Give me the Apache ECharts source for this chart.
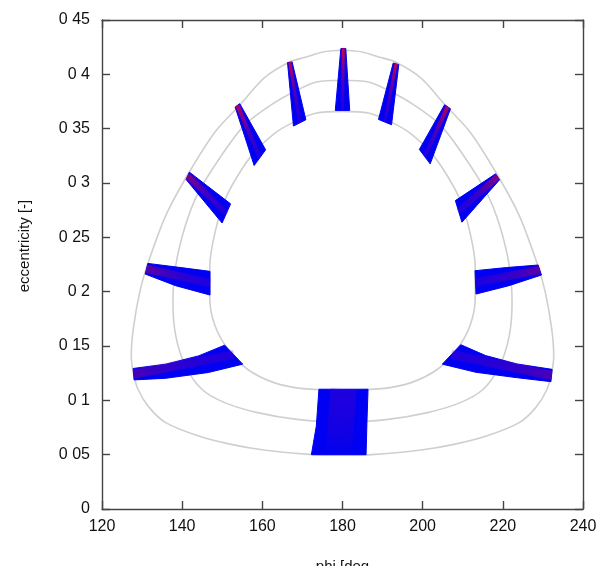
<!DOCTYPE html>
<html>
<head>
<meta charset="utf-8">
<script src="https://cdn.jsdelivr.net/npm/echarts@6/dist/echarts.min.js"></script>
<style>html,body{margin:0;padding:0;background:#fff}#c{width:612px;height:566px}</style>
</head>
<body>
<div id="c"></div>
<script>
// ---- tick labels ----
var xTickLabels = ['120','140','160','180','200','220','240'];
var yTickLabels = ['0','0 05','0 1','0 15','0 2','0 25','0 3','0 35','0 4','0 45'];

// ---- gray closed curves [phi, e] ----
var curveOuter = [[180,0.4221],[175.1,0.4206],[171.0,0.416],[166.8,0.4114],[160.4,0.3966],[154.7,0.373],[148.2,0.347],[141.6,0.309],[135.9,0.270],[131.4,0.2254],[129.4,0.1993],[127.8,0.1655],[127.3,0.141],[127.8,0.1256],[129.0,0.110],[131.8,0.0933],[135.9,0.0795],[144.1,0.0672],[152.2,0.0595],[160.4,0.0543],[171.8,0.0503],[180,0.0494],[188.2,0.0503],[199.6,0.0543],[207.8,0.0595],[215.9,0.0672],[224.1,0.0795],[228.2,0.0933],[231.0,0.110],[232.2,0.1256],[232.7,0.141],[232.2,0.1655],[230.6,0.1993],[228.6,0.2254],[224.1,0.270],[218.4,0.309],[211.8,0.347],[205.3,0.373],[199.6,0.3966],[193.2,0.4114],[189.0,0.416],[184.9,0.4206],[180,0.4221]];
var curveMiddle = [[180,0.3945],[173.5,0.393],[168.6,0.3853],[162.0,0.3714],[155.5,0.353],[149.8,0.3253],[144.1,0.2915],[140.8,0.2608],[138.4,0.2239],[137.7,0.190],[138.4,0.1594],[140.8,0.1317],[144.9,0.1102],[150.6,0.0979],[158.8,0.0887],[168.6,0.0825],[180,0.080],[191.4,0.0825],[201.2,0.0887],[209.4,0.0979],[215.1,0.1102],[219.2,0.1317],[221.6,0.1594],[222.3,0.190],[221.6,0.2239],[219.2,0.2608],[215.9,0.2915],[210.2,0.3253],[204.5,0.353],[198.0,0.3714],[191.4,0.3853],[186.5,0.393],[180,0.3945]];
var curveInner = [[180,0.3659],[173.5,0.3644],[167.8,0.356],[162.9,0.3453],[158.0,0.3284],[153.9,0.3069],[150.6,0.2838],[148.2,0.2546],[146.9,0.2239],[146.9,0.1932],[148.2,0.1686],[151.4,0.1471],[156.3,0.1286],[162.9,0.1163],[170.2,0.1108],[180,0.1096],[189.8,0.1108],[197.1,0.1163],[203.7,0.1286],[208.6,0.1471],[211.8,0.1686],[213.1,0.1932],[213.1,0.2239],[211.8,0.2546],[209.4,0.2838],[206.1,0.3069],[202.0,0.3284],[197.1,0.3453],[192.2,0.356],[186.5,0.3644],[180,0.3659]];

// ---- wedges: outer-A ... inner-A, inner-B ... outer-B ----
var wedgeBottom   = [[172.24,0.05],[173.47,0.0764],[174.12,0.1102],[186.37,0.1102],[186.1,0.08],[185.88,0.05]];
var wedgeLeft1    = [[127.76,0.1293],[135.92,0.1333],[144.08,0.1409],[150.61,0.1508],[155.1,0.1333],[146.53,0.1256],[135.92,0.1203],[128.0,0.1188]];
var wedgeLeft2    = [[131.43,0.226],[139.18,0.2224],[146.94,0.2187],[146.94,0.1969],[138.37,0.2055],[130.78,0.2162]];
var wedgeLeft3    = [[141.8,0.31],[152.08,0.2808],[149.96,0.2632],[140.98,0.3032]];
var wedgeLeft4    = [[154.37,0.373],[160.82,0.3305],[157.96,0.3161],[153.22,0.3699]];
var wedgeLeft5    = [[167.43,0.4114],[170.86,0.3582],[167.76,0.3524],[166.29,0.4108]];
var wedgeTop      = [[180.82,0.4237],[181.8,0.3668],[178.2,0.3668],[179.59,0.4237]];
var wedgeRight5   = [[192.65,0.4104],[188.98,0.3585],[192.24,0.3536],[194.04,0.4089]];
var wedgeRight4   = [[205.47,0.372],[199.18,0.3309],[201.88,0.3176],[206.94,0.3683]];
var wedgeRight3   = [[218.2,0.3084],[208.16,0.2838],[209.8,0.2639],[219.18,0.3029]];
var wedgeRight2   = [[228.82,0.2245],[220.9,0.2222],[213.06,0.2193],[213.31,0.1978],[221.5,0.2055],[229.63,0.2153]];
var wedgeRight1   = [[232.3,0.1285],[223.5,0.1335],[215.7,0.1412],[209.5,0.1512],[204.9,0.1333],[213.3,0.1258],[223.6,0.1208],[232.0,0.1172]];

var wedges = [wedgeBottom, wedgeLeft1, wedgeLeft2, wedgeLeft3, wedgeLeft4, wedgeLeft5, wedgeTop,
              wedgeRight5, wedgeRight4, wedgeRight3, wedgeRight2, wedgeRight1];

// styling of the central red/purple streak in each wedge (style only)
var streakWidth = [26, 9, 8, 6, 4, 3, 3, 3, 4, 6, 8, 9];
var streakRed   = [0.0, 0.3, 0.4, 0.6, 0.85, 0.95, 1.0, 0.95, 0.85, 0.6, 0.4, 0.3];

function lineSeries(pts){
  return {type:'line', data:pts, showSymbol:false, symbol:'none', smooth:0.3, silent:true,
    lineStyle:{color:'#cfcfcf', width:1.6}, z:1, animation:false};
}

var chart = echarts.init(document.getElementById('c'), null, {renderer:'canvas'});

var axisLineStyle = {color:'#444', width:1.4};
var labelStyle = {fontFamily:'Liberation Sans, Arial, sans-serif', fontSize:16, color:'#111'};

chart.setOption({
  animation:false,
  backgroundColor:'#fff',
  grid:{left:102, right:29, top:20, bottom:57, containLabel:false, outerBoundsMode:'none'},
  xAxis:[{
    type:'value', min:120, max:240, interval:20, position:'bottom',
    axisLine:{show:true, onZero:false, lineStyle:axisLineStyle},
    axisTick:{show:true, inside:true, length:8, lineStyle:axisLineStyle},
    axisLabel:Object.assign({margin:10, formatter:function(v){return xTickLabels[Math.round((v-120)/20)];}}, labelStyle),
    splitLine:{show:false},
    name:'phi [deg', nameLocation:'middle', nameGap:50,
    nameTextStyle:{fontFamily:'Liberation Sans, Arial, sans-serif', fontSize:15, color:'#111'}
  },{
    type:'value', min:120, max:240, interval:20, position:'top',
    axisLine:{show:true, onZero:false, lineStyle:axisLineStyle},
    axisTick:{show:true, inside:true, length:8, lineStyle:axisLineStyle},
    axisLabel:{show:false}, splitLine:{show:false}
  }],
  yAxis:[{
    type:'value', min:0, max:0.45, interval:0.05, position:'left',
    axisLine:{show:true, onZero:false, lineStyle:axisLineStyle},
    axisTick:{show:true, inside:true, length:8, lineStyle:axisLineStyle},
    axisLabel:Object.assign({margin:12, formatter:function(v){return yTickLabels[Math.round(v/0.05)];}}, labelStyle),
    splitLine:{show:false}
  },{
    type:'value', min:0, max:0.45, interval:0.05, position:'right',
    axisLine:{show:true, onZero:false, lineStyle:axisLineStyle},
    axisTick:{show:true, inside:true, length:8, lineStyle:axisLineStyle},
    axisLabel:{show:false}, splitLine:{show:false}
  }],
  graphic:[{
    type:'text', x:25, y:246, rotation:Math.PI/2,
    style:{text:'eccentricity [-]', fontFamily:'Liberation Sans, Arial, sans-serif', fontSize:15, fill:'#111',
      textAlign:'center', textVerticalAlign:'middle'}
  }],
  series:[
    lineSeries(curveOuter),
    lineSeries(curveMiddle),
    lineSeries(curveInner),
    {
      type:'custom', coordinateSystem:'cartesian2d', z:5, silent:true,
      data: wedges.map(function(w,i){return [w[0][0], w[0][1], i];}),
      encode:{x:0, y:1},
      renderItem:function(params, api){
        var i = api.value(2);
        var w = wedges[i];
        var pts = w.map(function(p){return api.coord(p);});
        var n = pts.length;
        var o = [(pts[0][0]+pts[n-1][0])/2, (pts[0][1]+pts[n-1][1])/2];
        var a = pts[n/2-1], b = pts[n/2];
        var inn = [(a[0]+b[0])/2, (a[1]+b[1])/2];
        var r = streakRed[i];
        var grad = {type:'linear', global:true, x:o[0], y:o[1], x2:inn[0], y2:inn[1], colorStops:[
          {offset:0, color:'rgba(230,0,45,'+(0.9*r)+')'},
          {offset:0.5, color:'rgba(140,0,140,'+(0.12+0.4*r)+')'},
          {offset:1, color:'rgba(90,0,200,0.25)'}]};
        return {type:'group', children:[
          {type:'polygon', shape:{points:pts}, style:{fill:'#0000f2', stroke:'#0000f2', lineWidth:1}},
          {type:'line', shape:{x1:o[0], y1:o[1], x2:inn[0], y2:inn[1]},
            style:{stroke:grad, lineWidth:streakWidth[i], lineCap:'butt', shadowBlur:3, shadowColor:'rgba(110,0,170,0.4)'}}
        ]};
      }
    }
  ]
});
</script>
</body>
</html>
